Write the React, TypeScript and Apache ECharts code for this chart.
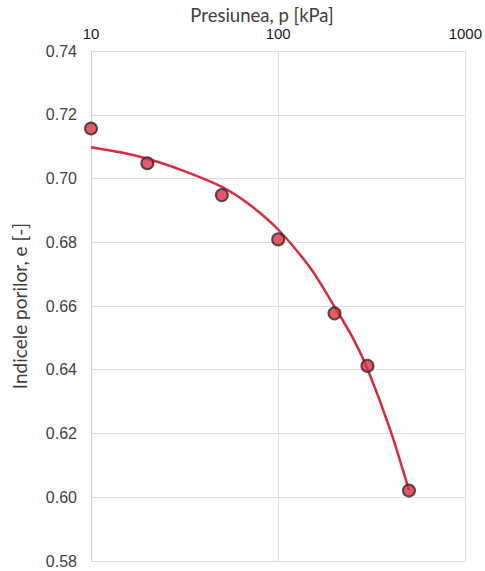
import React, { useEffect, useRef } from "react";
import * as echarts from "echarts";

const pressures = [10, 20, 50, 100, 200, 300, 500];
const voidRatios = [0.7157, 0.7048, 0.6948, 0.6809, 0.6577, 0.6412, 0.6021];

const fitPressures = [10, 15, 20, 30, 50, 70, 100, 150, 200, 250, 300, 400, 500];
const fitVoidRatios = [0.7098, 0.708, 0.7062, 0.7028, 0.6974, 0.6919, 0.684, 0.6716, 0.6598, 0.6501, 0.6403, 0.6206, 0.6022];

const xTitle = "Presiunea, p [kPa]";
const yTitle = "Indicele porilor, e [-]";

export default function App() {
  const ref = useRef<HTMLDivElement>(null);
  useEffect(() => {
    if (!ref.current) return;
    const chart = echarts.init(ref.current, null, { renderer: "svg" });
    const gridColor = "#dedede";
    chart.setOption({
      animation: false,
      backgroundColor: "#ffffff",
      grid: { left: 91, top: 51, width: 382, height: 510 },
      xAxis: {
        type: "log",
        logBase: 10,
        min: 10,
        max: 1000,
        position: "top",
        axisLine: { show: true, lineStyle: { color: gridColor } },
        axisTick: { show: false },
        minorTick: { show: false },
        axisLabel: {
          color: "#1a1a1a",
          fontFamily: "Liberation Sans",
          fontSize: 15,
          margin: 10,
          formatter: (v: number) => String(Math.round(v)),
        },
        splitLine: { show: true, lineStyle: { color: gridColor, width: 1 } },
      },
      yAxis: {
        type: "value",
        min: 0.58,
        max: 0.74,
        interval: 0.02,
        axisLine: { show: true, lineStyle: { color: "#cccccc" } },
        axisTick: { show: false },
        axisLabel: {
          color: "#404040",
          fontFamily: "Liberation Sans",
          fontSize: 16,
          margin: 14,
          formatter: (v: number) => v.toFixed(2),
        },
        splitLine: { show: true, lineStyle: { color: gridColor, width: 1 } },
        name: yTitle,
        nameLocation: "middle",
        nameGap: 62,
        nameRotate: 90,
        nameTextStyle: { color: "#404040", fontFamily: "Lato", fontSize: 19 },
      },
      graphic: [
        {
          type: "text",
          x: 262,
          y: 15,
          style: {
            text: xTitle,
            fill: "#404040",
            font: "18.5px Lato",
            textAlign: "center",
            textVerticalAlign: "middle",
          },
        },
      ],
      series: [
        {
          type: "line",
          data: fitPressures.map((p, i) => [p, fitVoidRatios[i]]),
          smooth: 0.25,
          showSymbol: false,
          lineStyle: { color: "#d92b3f", width: 2.5 },
          z: 2,
        },
        {
          type: "scatter",
          data: pressures.map((p, i) => [p, voidRatios[i]]),
          symbol: "circle",
          symbolSize: 12,
          itemStyle: { color: "#e0303f", borderColor: "#2a2a2a", borderWidth: 2 },
          z: 3,
        },
      ],
    });
    return () => chart.dispose();
  }, []);
  return (
    <div
      ref={ref}
      style={{ position: "fixed", left: 0, top: 0, width: 485, height: 571, background: "#fff" }}
    />
  );
}
